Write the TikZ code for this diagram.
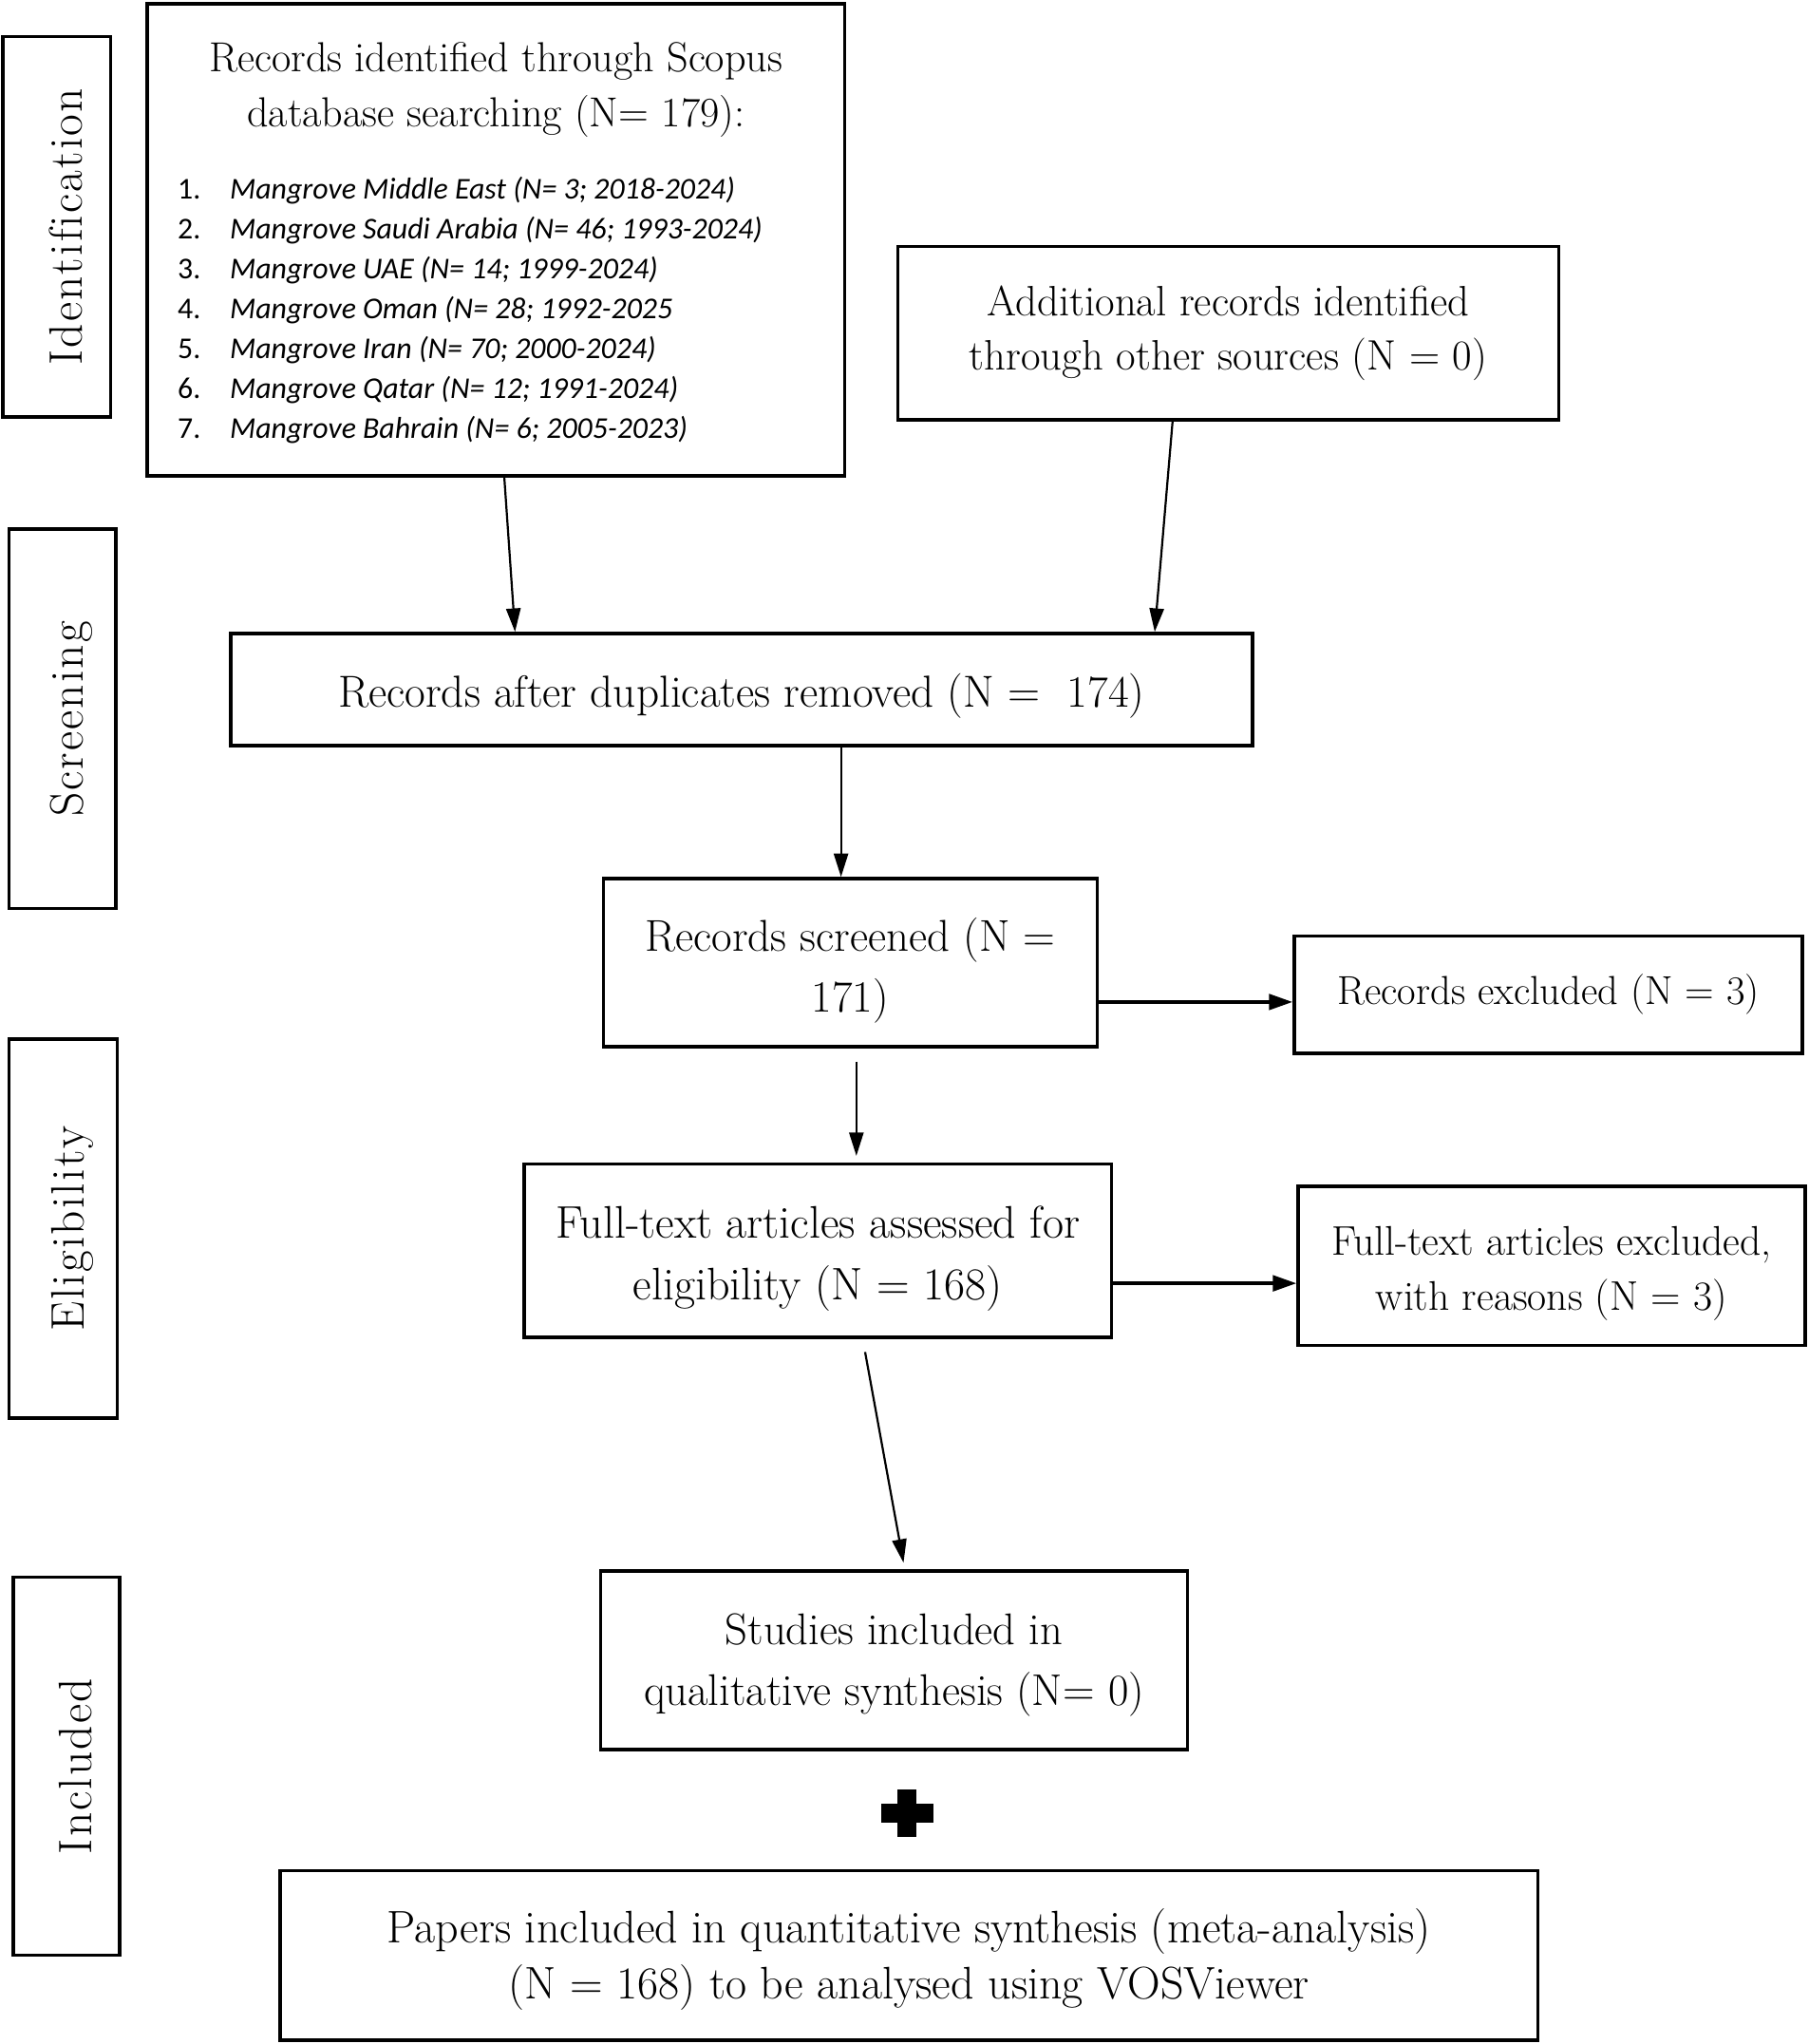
\documentclass[tikz,border=0pt]{standalone}
\usepackage{fontspec}
\newfontfamily\calib{Carlito}
\usetikzlibrary{arrows.meta,calc}
\newcommand\sidefont{\fontsize{18}{20}\selectfont}
\newcommand\spacedtxt[1]{\spacedaux#1\relax}
\def\spacedaux#1{\ifx#1\relax\else#1\hspace{0.8pt}\expandafter\spacedaux\fi}
\newcommand\up[1]{\rule{0pt}{#1}}
\begin{document}
\begin{tikzpicture}[x=0.5pt,y=-0.5pt,
  fs/.style 2 args={font=\fontsize{#1}{#2}\selectfont},
  box/.style={draw, line width=1.3pt, inner sep=0pt, align=center},
  side/.style={draw, line width=1.3pt, inner sep=0pt},
  sidetext/.style={inner sep=0pt, rotate=90, font=\sidefont},
  conn/.style={line width=0.8pt, -{Triangle[length=9pt,width=5.5pt]}},
  hconn/.style={line width=1.2pt, -{Triangle[length=9pt,width=6pt]}},
]
\useasboundingbox (0,0) rectangle (1388,1568);

% side labels
\node[side, minimum width=83*0.5pt, minimum height=292*0.5pt] (sid) at (43.5,174) {};
\node[sidetext] (sidt) at ([xshift=3.5pt]sid.center) {\spacedtxt{Identification}};
\node[side, minimum width=82*0.5pt, minimum height=291*0.5pt] (sscr) at (48,551.5) {};
\node[sidetext] (sscrt) at ([xshift=3.5pt]sscr.center) {\spacedtxt{Screening}};
\node[side, minimum width=83*0.5pt, minimum height=291*0.5pt] (selig) at (48.5,942.5) {};
\node[sidetext] (seligt) at ([xshift=3.5pt]selig.center) {\spacedtxt{Eligibility}};
\node[side, minimum width=82*0.5pt, minimum height=290*0.5pt] (sinc) at (51,1355) {};
\node[sidetext] (sinct) at ([xshift=3.5pt]sinc.center) {\spacedtxt{Included}};

% Scopus box
\node[box, minimum width=535*0.5pt, minimum height=362*0.5pt] (scopus) at (380.5,184) {};
\node[fs={16.1}{21}, align=center, inner sep=0pt] (scopustitle) at (380.5,69)
  {Records identified through Scopus\\database searching (N= 179):};
\node[font=\calib\fontsize{11.6}{15.25}\selectfont, align=left, anchor=west, inner sep=0pt] (scopuslist) at (136,238)
  {\makebox[20pt][l]{1.}\textit{Mangrove Middle East (N= 3; 2018-2024)}\\
   \makebox[20pt][l]{2.}\textit{Mangrove Saudi Arabia (N= 46; 1993-2024)}\\
   \makebox[20pt][l]{3.}\textit{Mangrove UAE (N= 14; 1999-2024)}\\
   \makebox[20pt][l]{4.}\textit{Mangrove Oman (N= 28; 1992-2025}\\
   \makebox[20pt][l]{5.}\textit{Mangrove Iran (N= 70; 2000-2024)}\\
   \makebox[20pt][l]{6.}\textit{Mangrove Qatar (N= 12; 1991-2024)}\\
   \makebox[20pt][l]{7.}\textit{Mangrove Bahrain (N= 6; 2005-2023)}};

\node[box, fs={16.3}{21}, minimum width=507*0.5pt, minimum height=133*0.5pt] (addl) at (942.5,255.5)
  {Additional records identified\\through other sources (N = 0)};
\node[box, fs={17.2}{23}, minimum width=784*0.5pt, minimum height=86*0.5pt] (dup) at (569,529)
  {\up{17.9pt}Records after duplicates removed (N =\ \ 174)};
\node[box, fs={17.1}{23}, minimum width=379*0.5pt, minimum height=129*0.5pt] (scr) at (652.5,738.5)
  {\up{18.8pt}Records screened (N =\\171)};
\node[box, fs={15.5}{21}, minimum width=390*0.5pt, minimum height=90*0.5pt] (exc1) at (1188,763)
  {Records excluded (N = 3)};
\node[box, fs={17.5}{23.5}, minimum width=451*0.5pt, minimum height=133*0.5pt] (full) at (627.5,959.5)
  {\up{18.15pt}Full-text articles assessed for\\eligibility (N = 168)};
\node[box, fs={15.9}{21}, minimum width=389*0.5pt, minimum height=122*0.5pt] (exc2) at (1190.5,971)
  {\up{17pt}Full-text articles excluded,\\with reasons (N = 3)};
\node[box, fs={17}{23.5}, minimum width=450*0.5pt, minimum height=137*0.5pt] (stud) at (686,1273.5)
  {\up{15.8pt}Studies included in\\qualitative synthesis (N= 0)};
\node[box, fs={17.5}{21.5}, minimum width=965*0.5pt, minimum height=130*0.5pt] (papers) at (697.5,1500)
  {\up{16.1pt}Papers included in quantitative synthesis (meta-analysis)\\(N = 168) to be analysed using VOSViewer};

% plus sign
\node[inner sep=0pt, minimum size=0pt] (plus) at (696,1391) {};
\fill ([xshift=-10pt,yshift=-3.6pt]plus.center) rectangle ([xshift=10pt,yshift=3.6pt]plus.center);
\fill ([xshift=-3.6pt,yshift=-9pt]plus.center) rectangle ([xshift=3.6pt,yshift=9pt]plus.center);

% connectors
\draw[conn] ($(scopus.south west)!0.512!(scopus.south east)$) -- ($(dup.north west)!0.279!(dup.north east)$);
\draw[conn] ($(addl.south west)!0.416!(addl.south east)$) -- ($(dup.north west)!0.903!(dup.north east)$);
\coordinate (d1) at ($(dup.south west)!0.597!(dup.south east)$);
\draw[conn] (d1) -- (d1 |- scr.north);
\coordinate (s1) at ($(scr.north east)!0.729!(scr.south east)$);
\draw[hconn] (s1) -- (s1 -| exc1.west);
\coordinate (s2) at ($(scr.south west)!0.512!(scr.south east)$);
\draw[conn, shorten <=5pt, shorten >=2.5pt] (s2) -- (s2 |- full.north);
\coordinate (f1) at ($(full.north east)!0.684!(full.south east)$);
\draw[hconn] (f1) -- (f1 -| exc2.west);
\draw[conn, shorten <=5pt, shorten >=2.5pt] ($(full.south west)!0.576!(full.south east)$) -- ($(stud.north west)!0.518!(stud.north east)$);
\end{tikzpicture}
\end{document}
